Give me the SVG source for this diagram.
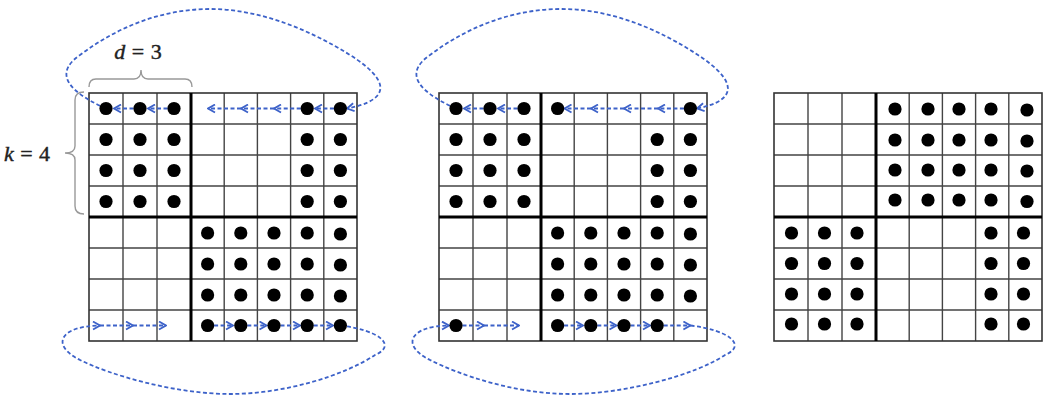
<svg xmlns="http://www.w3.org/2000/svg" xmlns:xlink="http://www.w3.org/1999/xlink" width="1050" height="396" viewBox="0 0 1050 396">
<style>
.thin{stroke:#444;stroke-width:1.4;fill:none}
.outer{stroke:#333;stroke-width:1.6;fill:none}
.thick{stroke:#000;stroke-width:3;fill:none}
.flow{stroke:#3d62c9;stroke-width:1.8;fill:none;stroke-dasharray:4 2.5;marker-end:url(#chev)}
.loop{stroke:#3d62c9;stroke-width:1.8;fill:none;stroke-dasharray:4 2.5;marker-end:url(#chev)}
.brace{stroke:#999;stroke-width:1.4;fill:none}
.lbl{font-family:"Liberation Serif","DejaVu Serif",serif;font-size:22px;fill:#222;stroke:#222;stroke-width:0.4;word-spacing:1px}
.dots circle{fill:#000}
</style>
<defs>
<marker id="chev" markerUnits="userSpaceOnUse" markerWidth="10" markerHeight="10" viewBox="0 0 10 10" refX="9" refY="5" orient="auto">
<path d="M2,1 L9,5 L2,9" fill="none" stroke="#3d62c9" stroke-width="1.8" stroke-dasharray="none"/>
</marker>
<g id="grid">
<path class="thin" d="M34,0V248M68,0V248M135.2,0V248M168.4,0V248M201.6,0V248M234.8,0V248M0,31H268M0,62H268M0,93H268M0,155H268M0,186H268M0,217H268"/>
<rect class="outer" x="0" y="0" width="268" height="248"/>
<path class="thick" d="M102,0V248M0,124H268"/>
</g>
</defs>
<rect width="1050" height="396" fill="#fff"/>

<g id="labels">
<path class="brace" d="M89,87 Q89,79 96,79 L134,79 Q141,79 141,70 Q141,79 148,79 L185,79 Q192,79 192,87"/>
<text class="lbl" x="138" y="59" text-anchor="middle"><tspan font-style="italic">d</tspan> = 3</text>
<path class="brace" d="M84,92 Q75,92 75,100 L75,146 Q75,153 65,153 Q75,153 75,160 L75,206 Q75,214 84,214"/>
<text class="lbl" x="27" y="161" text-anchor="middle"><tspan font-style="italic">k</tspan> = 4</text>
</g>

<g id="grid-left">
<use xlink:href="#grid" href="#grid" x="89" y="93"/>
</g>
<g id="grid-middle">
<use xlink:href="#grid" href="#grid" x="439" y="93"/>
</g>
<g id="grid-right">
<use xlink:href="#grid" href="#grid" x="774" y="93"/>
</g>

<g id="connectors">
<path class="loop" d="M106,108.5 C60,88 58,70 80,55 C120,25 165,9 210,9 C260,9 310,30 350,55 C390,80 392,100 347,108.5"/>
<path class="flow" d="M340.4,108.5 L315,108.5"/>
<path class="flow" d="M307.2,108.5 L274,108.5"/>
<path class="flow" d="M274,108.5 L241,108.5"/>
<path class="flow" d="M241,108.5 L208,108.5"/>
<path class="flow" d="M174,108.5 L148,108.5"/>
<path class="flow" d="M140,108.5 L114,108.5"/>
<path class="loop" d="M340.4,325.5 C378,330 398,345 375,355 C345,375 285,394 230,394 C175,394 110,375 80,360 C50,345 60,326 100,325.5"/>
<path class="flow" d="M100,325.5 L133,325.5"/>
<path class="flow" d="M133,325.5 L166,325.5"/>
<path class="flow" d="M207.6,325.5 L233,325.5"/>
<path class="flow" d="M240.8,325.5 L266.5,325.5"/>
<path class="flow" d="M274,325.5 L300,325.5"/>
<path class="flow" d="M307.2,325.5 L333,325.5"/>
<path class="loop" d="M456,108.5 C410,88 408,70 430,55 C470,25 515,9 562,9 C612,9 660,30 698,55 C736,80 740,100 697,108.5"/>
<path class="flow" d="M690.4,108.5 L658,108.5"/>
<path class="flow" d="M658,108.5 L624,108.5"/>
<path class="flow" d="M624,108.5 L591,108.5"/>
<path class="flow" d="M591,108.5 L564.5,108.5"/>
<path class="flow" d="M524,108.5 L498,108.5"/>
<path class="flow" d="M490,108.5 L464,108.5"/>
<path class="loop" d="M690.4,325.5 C728,330 748,345 725,355 C695,375 625,394 570,394 C515,394 460,375 430,360 C400,345 410,326 449,325.5"/>
<path class="flow" d="M456,325.5 L484,325.5"/>
<path class="flow" d="M484,325.5 L519,325.5"/>
<path class="flow" d="M557.6,325.5 L583,325.5"/>
<path class="flow" d="M590.8,325.5 L616.5,325.5"/>
<path class="flow" d="M624,325.5 L650,325.5"/>
<path class="flow" d="M657.2,325.5 L690.4,325.5"/>
</g>

<g id="dots-left" class="dots">
<circle cx="106" cy="108.5" r="6.6"/><circle cx="140" cy="108.5" r="6.6"/><circle cx="174" cy="108.5" r="6.6"/><circle cx="307.2" cy="108.5" r="6.6"/><circle cx="340.4" cy="108.5" r="6.6"/>
<circle cx="106" cy="139.5" r="6.6"/><circle cx="140" cy="139.5" r="6.6"/><circle cx="174" cy="139.5" r="6.6"/><circle cx="307.2" cy="139.5" r="6.6"/><circle cx="340.4" cy="139.5" r="6.6"/>
<circle cx="106" cy="170.5" r="6.6"/><circle cx="140" cy="170.5" r="6.6"/><circle cx="174" cy="170.5" r="6.6"/><circle cx="307.2" cy="170.5" r="6.6"/><circle cx="340.4" cy="170.5" r="6.6"/>
<circle cx="106" cy="201.5" r="6.6"/><circle cx="140" cy="201.5" r="6.6"/><circle cx="174" cy="201.5" r="6.6"/><circle cx="307.2" cy="201.5" r="6.6"/><circle cx="340.4" cy="201.5" r="6.6"/>
<circle cx="207.6" cy="233" r="6.6"/><circle cx="240.8" cy="233" r="6.6"/><circle cx="274" cy="233" r="6.6"/><circle cx="307.2" cy="233" r="6.6"/><circle cx="340.4" cy="234" r="6.6"/>
<circle cx="207.6" cy="264" r="6.6"/><circle cx="240.8" cy="264" r="6.6"/><circle cx="274" cy="264" r="6.6"/><circle cx="307.2" cy="264" r="6.6"/><circle cx="340.4" cy="265" r="6.6"/>
<circle cx="207.6" cy="295" r="6.6"/><circle cx="240.8" cy="295" r="6.6"/><circle cx="274" cy="295" r="6.6"/><circle cx="307.2" cy="295" r="6.6"/><circle cx="340.4" cy="296" r="6.6"/>
<circle cx="207.6" cy="325.5" r="6.6"/><circle cx="240.8" cy="325.5" r="6.6"/><circle cx="274" cy="325.5" r="6.6"/><circle cx="307.2" cy="325.5" r="6.6"/><circle cx="340.4" cy="325.5" r="6.6"/>
</g>

<g id="dots-middle" class="dots">
<circle cx="456" cy="108.5" r="6.6"/><circle cx="490" cy="108.5" r="6.6"/><circle cx="524" cy="108.5" r="6.6"/><circle cx="557.6" cy="108.5" r="6.6"/><circle cx="690.4" cy="108.5" r="6.6"/>
<circle cx="456" cy="139.5" r="6.6"/><circle cx="490" cy="139.5" r="6.6"/><circle cx="524" cy="139.5" r="6.6"/><circle cx="657.2" cy="139.5" r="6.6"/><circle cx="690.4" cy="139.5" r="6.6"/>
<circle cx="456" cy="170.5" r="6.6"/><circle cx="490" cy="170.5" r="6.6"/><circle cx="524" cy="170.5" r="6.6"/><circle cx="657.2" cy="170.5" r="6.6"/><circle cx="690.4" cy="170.5" r="6.6"/>
<circle cx="456" cy="201.5" r="6.6"/><circle cx="490" cy="201.5" r="6.6"/><circle cx="524" cy="201.5" r="6.6"/><circle cx="657.2" cy="201.5" r="6.6"/><circle cx="690.4" cy="201.5" r="6.6"/>
<circle cx="557.6" cy="233" r="6.6"/><circle cx="590.8" cy="233" r="6.6"/><circle cx="624" cy="233" r="6.6"/><circle cx="657.2" cy="233" r="6.6"/><circle cx="690.4" cy="234" r="6.6"/>
<circle cx="557.6" cy="264" r="6.6"/><circle cx="590.8" cy="264" r="6.6"/><circle cx="624" cy="264" r="6.6"/><circle cx="657.2" cy="264" r="6.6"/><circle cx="690.4" cy="265" r="6.6"/>
<circle cx="557.6" cy="295" r="6.6"/><circle cx="590.8" cy="295" r="6.6"/><circle cx="624" cy="295" r="6.6"/><circle cx="657.2" cy="295" r="6.6"/><circle cx="690.4" cy="296" r="6.6"/>
<circle cx="456" cy="325.5" r="6.6"/><circle cx="557.6" cy="325.5" r="6.6"/><circle cx="590.8" cy="325.5" r="6.6"/><circle cx="624" cy="325.5" r="6.6"/><circle cx="657.2" cy="325.5" r="6.6"/>
</g>

<g id="dots-right" class="dots">
<circle cx="895" cy="109" r="6.6"/><circle cx="928" cy="109" r="6.6"/><circle cx="959" cy="109" r="6.6"/><circle cx="991" cy="109" r="6.6"/><circle cx="1027" cy="110" r="6.6"/>
<circle cx="895" cy="140" r="6.6"/><circle cx="928" cy="140" r="6.6"/><circle cx="959" cy="140" r="6.6"/><circle cx="991" cy="140" r="6.6"/><circle cx="1027" cy="141" r="6.6"/>
<circle cx="895" cy="170" r="6.6"/><circle cx="928" cy="170" r="6.6"/><circle cx="959" cy="170" r="6.6"/><circle cx="991" cy="170" r="6.6"/><circle cx="1027" cy="171" r="6.6"/>
<circle cx="895" cy="200" r="6.6"/><circle cx="928" cy="200" r="6.6"/><circle cx="959" cy="200" r="6.6"/><circle cx="991" cy="200" r="6.6"/><circle cx="1027" cy="201.5" r="6.6"/>
<circle cx="791.5" cy="233" r="6.6"/><circle cx="824.5" cy="233" r="6.6"/><circle cx="857" cy="233" r="6.6"/><circle cx="991" cy="233" r="6.6"/><circle cx="1023.5" cy="233" r="6.6"/>
<circle cx="791.5" cy="263.5" r="6.6"/><circle cx="824.5" cy="263.5" r="6.6"/><circle cx="857" cy="263.5" r="6.6"/><circle cx="991" cy="263.5" r="6.6"/><circle cx="1023.5" cy="263.5" r="6.6"/>
<circle cx="791.5" cy="294" r="6.6"/><circle cx="824.5" cy="294" r="6.6"/><circle cx="857" cy="294" r="6.6"/><circle cx="991" cy="294" r="6.6"/><circle cx="1023.5" cy="294" r="6.6"/>
<circle cx="791.5" cy="324" r="6.6"/><circle cx="824.5" cy="324" r="6.6"/><circle cx="857" cy="324" r="6.6"/><circle cx="991" cy="324" r="6.6"/><circle cx="1023.5" cy="324" r="6.6"/>
</g>
</svg>
